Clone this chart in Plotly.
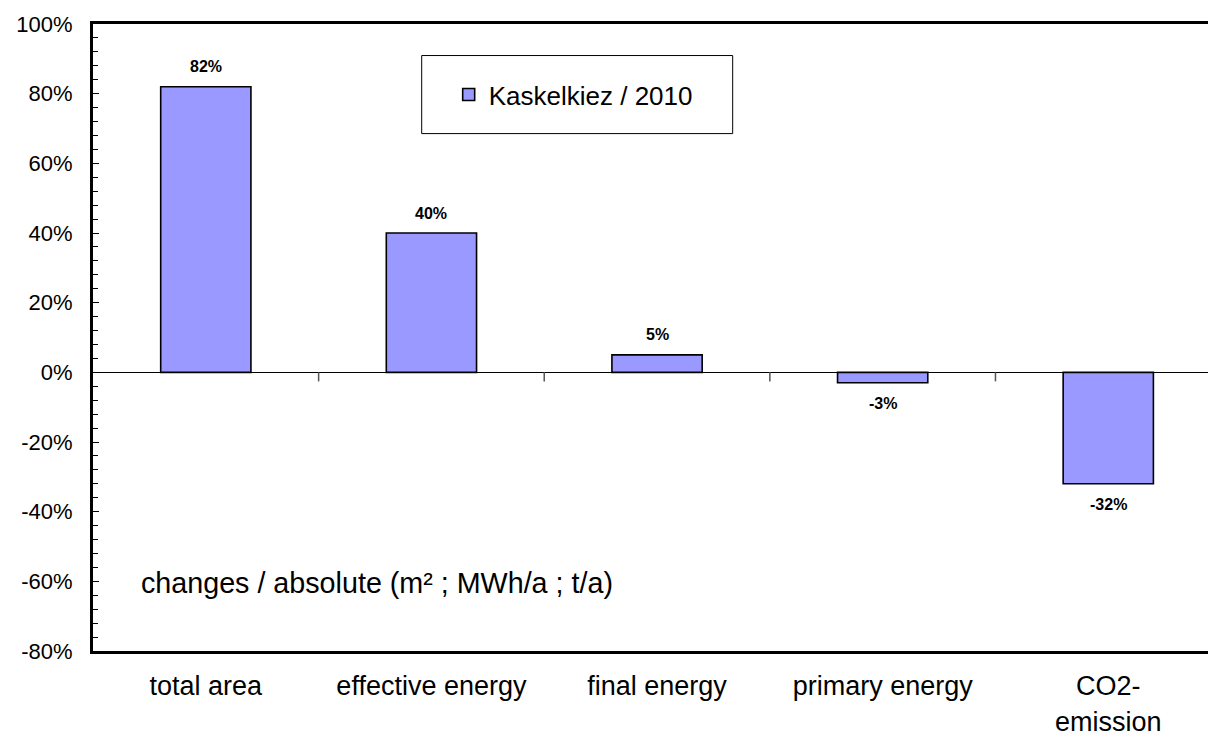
import plotly.graph_objects as go

# Relative changes per indicator, in percent
categories = ["total area", "effective energy", "final energy", "primary energy", "CO2-<br>emission"]
values = [82, 40, 5, -3, -32]
series_name = "Kaskelkiez / 2010"
note_text = "changes / absolute (m² ; MWh/a ; t/a)"
y_ticks = [-80, -60, -40, -20, 0, 20, 40, 60, 80, 100]

FONT = "Arial, Liberation Sans, sans-serif"
x_idx = list(range(len(categories)))

fig = go.Figure()
fig.add_trace(go.Bar(
    x=x_idx,
    y=values,
    name=series_name,
    width=0.4,
    marker=dict(color="#9999FF", line=dict(color="#000000", width=1.6)),
    showlegend=True,
))

# value labels above positive bars, below negative ones
for xi, v in zip(x_idx, values):
    fig.add_annotation(
        x=xi, y=v, xref="x", yref="y",
        text=f"<b>{v}%</b>", showarrow=False,
        font=dict(family=FONT, size=16, color="#000000"),
        yshift=20 if v >= 0 else -21,
    )

# category divider ticks hanging below the zero line
for b in range(len(categories) - 1):
    fig.add_shape(
        type="line", xref="x", yref="y",
        x0=b + 0.5, x1=b + 0.5, y0=0, y1=-2.6,
        line=dict(color="#555555", width=1.5),
    )

# legend frame
fig.add_shape(
    type="rect", xref="paper", yref="paper",
    x0=0.2948, x1=0.5737, y0=0.8252, y1=0.9497,
    line=dict(color="#000000", width=1), fillcolor="white", layer="below",
)

fig.add_annotation(
    x=0.041, y=0.1085, xref="paper", yref="paper",
    text=note_text, showarrow=False, xanchor="left", yanchor="middle",
    font=dict(family=FONT, size=28.7, color="#000000"),
)

fig.update_layout(
    width=1208, height=738,
    margin=dict(l=93, r=0, t=24, b=87, autoexpand=False),
    paper_bgcolor="white", plot_bgcolor="white",
    font=dict(family=FONT, color="#000000"),
    bargap=0.6,
    legend=dict(
        x=0.319, y=0.8875, xanchor="left", yanchor="middle",
        bgcolor="rgba(0,0,0,0)", borderwidth=0,
        font=dict(family=FONT, size=26, color="#000000"),
    ),
    xaxis=dict(
        range=[-0.5, 4.442],
        tickmode="array", tickvals=x_idx, ticktext=categories,
        tickfont=dict(family=FONT, size=27, color="#000000"),
        showline=True, linecolor="#000000", linewidth=3, mirror=True,
        showgrid=False, zeroline=False, ticks="",
        ticklabelstandoff=9, automargin=False,
    ),
    yaxis=dict(
        range=[-80, 100],
        tickmode="array", tickvals=y_ticks,
        ticktext=[f"{t}%" for t in y_ticks],
        tickfont=dict(family=FONT, size=22, color="#000000"),
        showline=True, linecolor="#000000", linewidth=3, mirror=False,
        showgrid=False,
        zeroline=True, zerolinecolor="#000000", zerolinewidth=1,
        ticks="inside", ticklen=6, tickcolor="#000000", tickwidth=1,
        minor=dict(dtick=4, tick0=0, ticks="inside", ticklen=5, tickcolor="#000000", tickwidth=1),
        ticklabelstandoff=13, automargin=False,
    ),
)

fig.write_html("out.html")
